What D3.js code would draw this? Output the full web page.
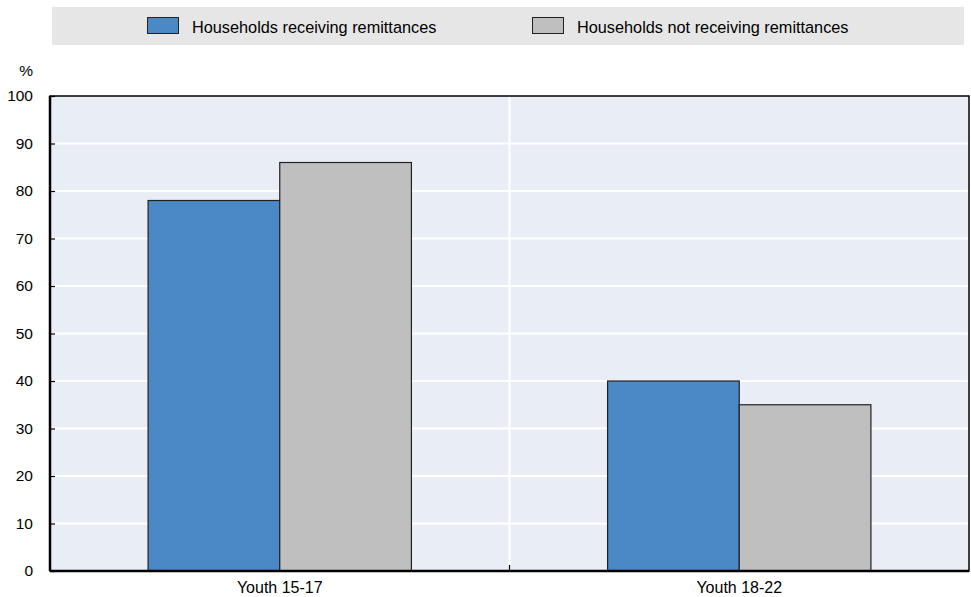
<!DOCTYPE html>
<html>
<head>
<meta charset="utf-8">
<script src="https://cdn.jsdelivr.net/npm/d3@7"></script>
<style>
  html, body { margin: 0; padding: 0; background: #fff; }
  svg { display: block; }
  text { font-family: "Liberation Sans Narrow", "Arial Narrow", "Liberation Sans", Arial, sans-serif; fill: #000; }
</style>
</head>
<body>
<svg id="chart" width="971" height="597"></svg>
<script>
const categories = ["Youth 15-17", "Youth 18-22"];
const seriesNames = ["Households receiving remittances", "Households not receiving remittances"];
const receiving = [78, 40];
const notReceiving = [86, 35];
const yTicks = [0, 10, 20, 30, 40, 50, 60, 70, 80, 90, 100];
const colors = ["#4a88c6", "#bfbfbf"];

const W = 971, H = 597;
const margin = { top: 96, right: 2, bottom: 26, left: 50 };
const svg = d3.select("#chart");
const iw = W - margin.left - margin.right;
const ih = H - margin.top - margin.bottom;
const fontStack = "Liberation Sans Narrow, Arial Narrow, Liberation Sans, sans-serif";

// Legend band
const legend = svg.append("g");
legend.append("rect").attr("x", 52).attr("y", 7).attr("width", 912).attr("height", 38).attr("fill", "#e6e6e6");
const legendX = [147, 532];
seriesNames.forEach((name, i) => {
  legend.append("rect").attr("x", legendX[i] + 0.5).attr("y", 17.5).attr("width", 31).attr("height", 16)
    .attr("fill", colors[i]).attr("stroke", "#222").attr("stroke-width", 1);
  legend.append("text").attr("x", legendX[i] + 45).attr("y", 32.5).attr("font-size", 16.3).text(name);
});

const g = svg.append("g").attr("transform", `translate(${margin.left},${margin.top})`);

const x = d3.scaleBand().domain(categories).range([0, iw]).padding(0);
const inner = d3.scaleBand().domain([0, 1]).range([0, x.bandwidth()]).paddingOuter(0.745).paddingInner(0);
const y = d3.scaleLinear().domain([0, 100]).range([ih, 0]);

// Plot background
g.append("rect").attr("width", iw).attr("height", ih).attr("fill", "#e9edf6");

// Horizontal gridlines
g.append("g").selectAll("line").data(yTicks.filter(t => t > 0 && t < 100)).join("line")
  .attr("x1", 0).attr("x2", iw).attr("y1", d => y(d)).attr("y2", d => y(d))
  .attr("stroke", "#fff").attr("stroke-width", 2);

// Vertical separators between categories
g.append("g").selectAll("line").data(categories.slice(1)).join("line")
  .attr("x1", d => x(d)).attr("x2", d => x(d)).attr("y1", 0).attr("y2", ih)
  .attr("stroke", "#fff").attr("stroke-width", 2);

// Bars
const series = [receiving, notReceiving];
const rows = [];
categories.forEach((c, ci) => series.forEach((s, si) => rows.push({ c, si, v: s[ci] })));
g.append("g").selectAll("rect").data(rows).join("rect")
  .attr("x", d => x(d.c) + inner(d.si))
  .attr("y", d => y(d.v))
  .attr("width", inner.bandwidth())
  .attr("height", d => y(0) - y(d.v))
  .attr("fill", d => colors[d.si])
  .attr("stroke", "#222").attr("stroke-width", 1.2);

// Frame
g.append("rect").attr("width", iw).attr("height", ih).attr("fill", "none").attr("stroke", "#000").attr("stroke-width", 1.5);
g.append("line").attr("x1", 0).attr("x2", 0).attr("y1", 0).attr("y2", ih).attr("stroke", "#000").attr("stroke-width", 2.5);
g.append("line").attr("x1", 0).attr("x2", iw).attr("y1", ih).attr("y2", ih).attr("stroke", "#000").attr("stroke-width", 2.5);

// Y axis
const yAxis = d3.axisLeft(y).tickValues(yTicks).tickSize(-5).tickPadding(17);
const ya = g.append("g").call(yAxis);
ya.select(".domain").remove();
ya.selectAll(".tick line").attr("stroke", "#000").attr("stroke-width", 1.2);
ya.selectAll(".tick text").attr("font-size", 15.5).attr("font-family", fontStack);

// X axis
const xAxis = d3.axisBottom(x).tickSize(0).tickPadding(11);
const xa = g.append("g").attr("transform", `translate(0,${ih})`).call(xAxis);
xa.select(".domain").remove();
xa.selectAll(".tick text").attr("font-size", 16).attr("font-family", fontStack);
// Small tick marks between categories
g.append("g").selectAll("line").data(categories.slice(1)).join("line")
  .attr("x1", d => x(d)).attr("x2", d => x(d)).attr("y1", ih).attr("y2", ih - 6)
  .attr("stroke", "#000").attr("stroke-width", 1.2);

// Unit label
svg.append("text").attr("x", 33).attr("y", 76).attr("text-anchor", "end").attr("font-size", 15.5).text("%");
</script>
</body>
</html>
